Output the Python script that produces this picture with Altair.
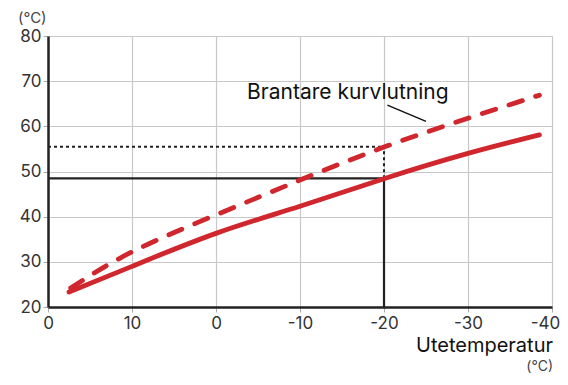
import altair as alt
import pandas as pd

# Data
solid_t = [17.5, 10, 0, -10, -20, -30, -38.5]
solid_v = [23.3, 29.0, 36.3, 42.3, 48.4, 54.0, 58.1]
dashed_t = [17.3, 10, 0, -10, -20, -30, -38.5]
dashed_v = [24.2, 32.2, 40.4, 48.1, 55.4, 61.8, 66.9]
x_ticks = [20, 10, 0, -10, -20, -30, -40]
x_labels = ["0", "10", "0", "-10", "-20", "-30", "-40"]
y_ticks = [20, 30, 40, 50, 60, 70, 80]
ref_temp = -20
ref_solid = 48.5
ref_dashed = 55.5
annot_text = "Brantare kurvlutning"

FONT = "Inter"
RED = "#d0262d"

xscale = alt.Scale(domain=[-40, 20], reverse=True, nice=False, zero=False)
yscale = alt.Scale(domain=[20, 80], nice=False, zero=False)

label_expr = " : ".join(
    [f"datum.value == {v} ? '{l}'" for v, l in zip(x_ticks, x_labels)]
) + " : ''"

xaxis = alt.Axis(values=x_ticks, labelExpr=label_expr, title=None, grid=True,
                 gridColor="#c8c8c8", gridWidth=1.2, domainColor="#222",
                 domainWidth=2.5, tickColor="#aaa", tickSize=5,
                 labelFont=FONT, labelFontSize=17, labelColor="#333",
                 labelPadding=3, labelFlush=False,
                 labelOffset={"condition": {"test": "datum.value == -40", "value": -7},
                              "value": 0})
yaxis = alt.Axis(values=y_ticks, title=None, grid=True, gridColor="#c8c8c8",
                 gridWidth=1.2, domainColor="#222", domainWidth=2.5,
                 tickColor="#aaa", tickSize=5, labelFont=FONT,
                 labelFontSize=17, labelColor="#333", labelPadding=2)

curves = pd.DataFrame({
    "t": solid_t + dashed_t,
    "v": solid_v + dashed_v,
    "s": ["solid"] * len(solid_t) + ["dashed"] * len(dashed_t),
})

base_x = alt.X("t:Q", scale=xscale, axis=xaxis)
base_y = alt.Y("v:Q", scale=yscale, axis=yaxis)

solid_line = alt.Chart(curves[curves.s == "solid"]).mark_line(
    color=RED, strokeWidth=4.8, strokeCap="round", interpolate="natural"
).encode(x=base_x, y=base_y)

dashed_line = alt.Chart(curves[curves.s == "dashed"]).mark_line(
    color=RED, strokeWidth=4.8, strokeCap="round", strokeDash=[14, 14],
    interpolate="natural"
).encode(x=base_x, y=base_y)

# reference lines
solid_refs = pd.DataFrame({
    "x": [20, ref_temp], "x2": [ref_temp, ref_temp],
    "y": [ref_solid, 20], "y2": [ref_solid, ref_solid],
})
dotted_refs = pd.DataFrame({
    "x": [20, ref_temp], "x2": [ref_temp, ref_temp],
    "y": [ref_dashed, ref_solid], "y2": [ref_dashed, ref_dashed],
})

ref_solid_rule = alt.Chart(solid_refs).mark_rule(color="#222", strokeWidth=2.2).encode(
    x=alt.X("x:Q", scale=xscale), x2="x2:Q",
    y=alt.Y("y:Q", scale=yscale), y2="y2:Q")
ref_dotted_rule = alt.Chart(dotted_refs).mark_rule(
    color="#222", strokeWidth=2, strokeDash=[3, 3]).encode(
    x=alt.X("x:Q", scale=xscale), x2="x2:Q",
    y=alt.Y("y:Q", scale=yscale), y2="y2:Q")

leader = pd.DataFrame({"x": [-20.4], "x2": [-25.0], "y": [64.7], "y2": [61.1]})
leader_rule = alt.Chart(leader).mark_rule(color="#111", strokeWidth=1.5).encode(
    x=alt.X("x:Q", scale=xscale), x2="x2:Q",
    y=alt.Y("y:Q", scale=yscale), y2="y2:Q")

annot = alt.Chart(pd.DataFrame({"x": [-3.7], "y": [67.3], "text": [annot_text]})).mark_text(
    font=FONT, fontSize=21, color="#111", align="left", baseline="middle"
).encode(x=alt.X("x:Q", scale=xscale), y=alt.Y("y:Q", scale=yscale), text="text:N")

# axis titles as free text
title_texts = ["(°C)", "Utetemperatur", "(°C)"]
title_px = [-30, 505, 505]
title_py = [-18, 310, 331]
title_size = [15, 20, 14]
title_align = ["left", "right", "right"]
title_color = ["#444", "#111", "#444"]
titles = []
for t, px, py, sz, al, col in zip(title_texts, title_px, title_py, title_size,
                                   title_align, title_color):
    titles.append(alt.Chart(pd.DataFrame({"text": [t]})).mark_text(
        font=FONT, fontSize=sz, color=col, align=al, baseline="middle"
    ).encode(x=alt.value(px), y=alt.value(py), text="text:N"))

chart = alt.layer(ref_solid_rule, ref_dotted_rule, dashed_line, solid_line,
                  leader_rule, annot, *titles).properties(
    width=504, height=271,
    autosize=alt.AutoSizeParams(type="none"),
    padding={"left": 40, "top": 28, "right": 8, "bottom": 70},
).configure_view(stroke="#666", strokeWidth=2.5).configure(background="white")

chart.save("out.html", embed_options={"renderer": "svg", "actions": False})
